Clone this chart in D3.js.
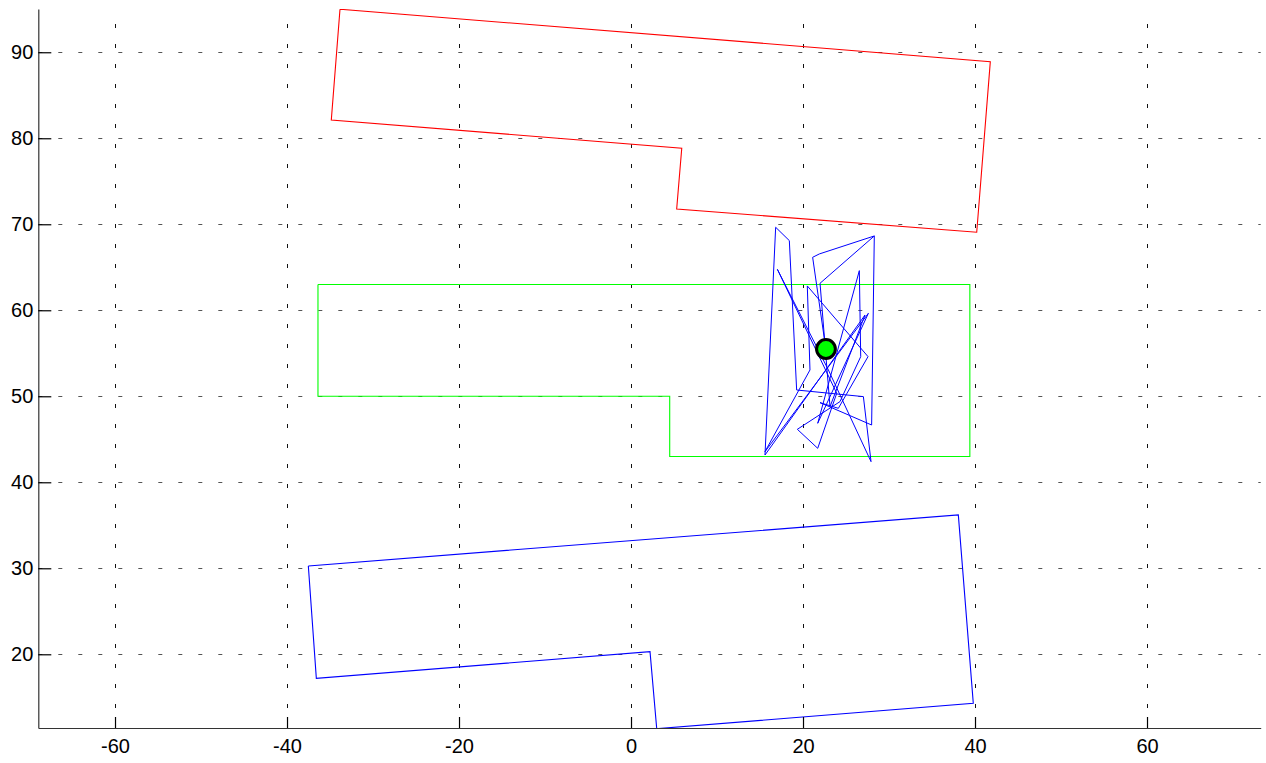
<!DOCTYPE html>
<html>
<head>
<meta charset="utf-8">
<script src="https://cdn.jsdelivr.net/npm/d3@7"></script>
<style>
  html, body { margin: 0; padding: 0; background: #fff; }
  svg { display: block; }
  text { font-family: "Liberation Sans", Arial, Helvetica, sans-serif; }
</style>
</head>
<body>
<svg id="chart" width="1266" height="763"></svg>
<script>
// ---- data ----
const xTicks = [-60, -40, -20, 0, 20, 40, 60];
const yTicks = [20, 30, 40, 50, 60, 70, 80, 90];
const xLimits = [-68.92, 73.22];
const yLimits = [11.43, 95.03];

const redPolygon = [
  [-33.84, 95.00], [-34.85, 82.13], [5.90, 78.84], [5.31, 71.78],
  [40.20, 69.07], [41.78, 88.91], [-33.84, 95.00]
];
const greenPolygon = [
  [-36.4, 63.0], [39.4, 63.0], [39.4, 43.0], [4.5, 43.0],
  [4.5, 50.0], [-36.4, 50.0], [-36.4, 63.0]
];
const bluePolygon = [
  [-37.52, 30.27], [-36.59, 17.21], [2.21, 20.30], [2.99, 11.35],
  [39.80, 14.30], [38.06, 36.20], [-37.52, 30.27]
];
const bluePath = [
  [22.67, 55.38], [21.12, 66.16], [21.90, 66.55], [28.29, 68.64],
  [27.98, 46.66], [21.98, 49.26], [24.11, 48.60], [27.56, 54.61],
  [20.50, 62.83], [20.81, 53.06], [15.58, 43.56], [27.60, 59.65],
  [21.71, 46.86], [26.55, 64.61], [26.71, 54.61], [24.30, 49.38],
  [19.34, 46.16], [21.71, 43.95], [23.92, 50.35], [17.02, 64.76],
  [22.95, 53.06], [27.91, 42.40], [27.02, 49.96], [19.26, 50.73],
  [18.41, 68.10], [16.82, 69.65], [15.58, 43.17], [27.21, 59.45],
  [23.14, 48.79], [21.98, 63.14], [28.29, 68.64]
];
const markerPoint = [22.67, 55.5];

// ---- chart ----
const svg = d3.select("#chart");
const x = d3.scaleLinear().domain(xLimits).range([38.3, 1260.7]);
const y = d3.scaleLinear().domain(yLimits).range([728, 9]);

svg.append("defs").append("clipPath").attr("id", "plotClip")
  .append("rect")
  .attr("x", x(xLimits[0])).attr("y", y(yLimits[1]))
  .attr("width", x(xLimits[1]) - x(xLimits[0]))
  .attr("height", y(yLimits[0]) - y(yLimits[1]));

// grid
const grid = svg.append("g");
grid.selectAll("line.vg").data(xTicks).join("line")
  .attr("x1", d => Math.round(x(d)) + 0.5).attr("x2", d => Math.round(x(d)) + 0.5)
  .attr("y1", y(yLimits[0])).attr("y2", y(yLimits[1]))
  .attr("stroke", "#111").attr("stroke-width", 1)
  .attr("stroke-dasharray", "4,16");
grid.selectAll("line.hg").data(yTicks).join("line")
  .attr("y1", d => Math.round(y(d)) + 0.5).attr("y2", d => Math.round(y(d)) + 0.5)
  .attr("x1", x(xLimits[0])).attr("x2", x(xLimits[1]))
  .attr("stroke", "#555").attr("stroke-width", 1.2)
  .attr("stroke-dasharray", "4,16");

// lines
const line = d3.line().x(d => x(d[0])).y(d => y(d[1]));
const plot = svg.append("g").attr("clip-path", "url(#plotClip)");
plot.append("path").attr("d", line(redPolygon))
  .attr("fill", "none").attr("stroke", "#ff0000").attr("stroke-width", 1.1);
plot.append("path").attr("d", line(greenPolygon))
  .attr("fill", "none").attr("stroke", "#00ff00").attr("stroke-width", 1.1);
plot.append("path").attr("d", line(bluePolygon))
  .attr("fill", "none").attr("stroke", "#0000ff").attr("stroke-width", 1.1);
plot.append("path").attr("d", line(bluePath))
  .attr("fill", "none").attr("stroke", "#0000ff").attr("stroke-width", 1)
  .attr("stroke-linejoin", "miter");
plot.append("circle")
  .attr("cx", x(markerPoint[0])).attr("cy", y(markerPoint[1]))
  .attr("r", 9.4)
  .attr("fill", "#00ff00").attr("stroke", "#000").attr("stroke-width", 3);

// axes
const fmt = d => String(d);
const xAxis = d3.axisBottom(x).tickValues(xTicks).tickSizeInner(-11).tickSizeOuter(0)
  .tickPadding(20).tickFormat(fmt);
const yAxis = d3.axisLeft(y).tickValues(yTicks).tickSizeInner(-13).tickSizeOuter(0)
  .tickPadding(5).tickFormat(fmt);

const gx = svg.append("g").attr("transform", `translate(0,${y(yLimits[0])})`).call(xAxis);
const gy = svg.append("g").attr("transform", `translate(${x(xLimits[0])},0)`).call(yAxis);
[gx, gy].forEach(g => {
  g.select(".domain").attr("stroke", "#333").attr("stroke-width", 1.2);
  g.selectAll(".tick line").attr("stroke", "#000").attr("stroke-width", 1.2);
  g.selectAll("text").attr("font-size", 20).attr("fill", "#000")
    .style("font-family", '"Liberation Sans", Arial, Helvetica, sans-serif');
});
gx.selectAll("text").attr("dy", "0.71em").attr("y", 11);
gy.selectAll("text").attr("x", -5);
</script>
</body>
</html>
